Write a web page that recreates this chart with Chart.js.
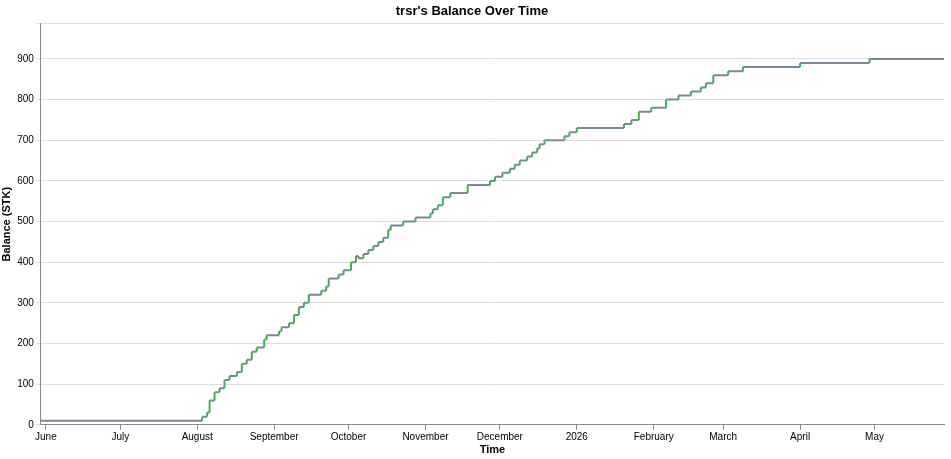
<!DOCTYPE html>
<html>
<head>
<meta charset="utf-8">
<script src="https://cdn.jsdelivr.net/npm/chart.js@4"></script>
<style>
body { margin: 0; background: #fff; }
#wrap { width: 951px; height: 459px; }
</style>
</head>
<body>
<div id="wrap"><canvas id="c"></canvas></div>
<script>
// balance after each change (date of change, new balance)
var changeDates = [
    "2025-05-30", "2025-08-03", "2025-08-05", "2025-08-06", "2025-08-08", "2025-08-10", "2025-08-12",
    "2025-08-14", "2025-08-17", "2025-08-19", "2025-08-21", "2025-08-23", "2025-08-25", "2025-08-28",
    "2025-08-29", "2025-09-03", "2025-09-04", "2025-09-07", "2025-09-09", "2025-09-11", "2025-09-13",
    "2025-09-15", "2025-09-20", "2025-09-22", "2025-09-23", "2025-09-27", "2025-09-29", "2025-10-02",
    "2025-10-04", "2025-10-05", "2025-10-07", "2025-10-09", "2025-10-11", "2025-10-13", "2025-10-15",
    "2025-10-17", "2025-10-18", "2025-10-23", "2025-10-28", "2025-11-03", "2025-11-04", "2025-11-06",
    "2025-11-08", "2025-11-11", "2025-11-18", "2025-11-27", "2025-11-29", "2025-12-02", "2025-12-05",
    "2025-12-07", "2025-12-09", "2025-12-12", "2025-12-14", "2025-12-16", "2025-12-17", "2025-12-19",
    "2025-12-27", "2025-12-29", "2026-01-01", "2026-01-20", "2026-01-23", "2026-01-26", "2026-01-31",
    "2026-02-06", "2026-02-11", "2026-02-16", "2026-02-20", "2026-02-22", "2026-02-25", "2026-03-03",
    "2026-03-09", "2026-04-01", "2026-04-29"
];
var balances = [
    10, 20, 30, 60, 80, 90, 110,
    120, 130, 150, 160, 180, 190, 210,
    220, 230, 240, 250, 270, 290, 300,
    320, 330, 340, 360, 370, 380, 400,
    415, 410, 420, 430, 440, 450, 460,
    480, 490, 500, 510, 520, 530, 540,
    560, 570, 590, 600, 610, 620, 630,
    640, 650, 660, 670, 680, 690, 700,
    710, 720, 730, 740, 750, 770, 780,
    800, 810, 820, 830, 840, 860, 870,
    880, 890, 900
];
var endDate = "2026-05-29";
var monthTicks = ["2025-06-01", "2025-07-01", "2025-08-01", "2025-09-01", "2025-10-01", "2025-11-01",
    "2025-12-01", "2026-01-01", "2026-02-01", "2026-03-01", "2026-04-01", "2026-05-01"];
var monthLabels = ["June", "July", "August", "September", "October", "November",
    "December", "2026", "February", "March", "April", "May"];

function ts(s) { return Date.parse(s + "T00:00:00Z"); }

var points = [{ x: ts(changeDates[0]), y: balances[0] }];
for (var i = 1; i < changeDates.length; i++) {
    points.push({ x: ts(changeDates[i]), y: balances[i - 1] });
    points.push({ x: ts(changeDates[i]), y: balances[i] });
}
points.push({ x: ts(endDate), y: balances[balances.length - 1] });

var tickValues = monthTicks.map(ts);

new Chart(document.getElementById("c"), {
    type: "line",
    data: {
        datasets: [{
            data: points,
            borderWidth: 2,
            pointRadius: 0,
            borderColor: "#778899",
            segment: {
                borderColor: function (ctx) {
                    if (ctx.p0.parsed.x !== ctx.p1.parsed.x) return "#778899";
                    return ctx.p1.parsed.y > ctx.p0.parsed.y ? "#3cb34a" : "#e74c3c";
                }
            }
        }]
    },
    options: {
        responsive: true,
        maintainAspectRatio: false,
        animation: false,
        layout: { padding: { right: 7, top: 0, left: 0, bottom: 2 } },
        plugins: {
            legend: { display: false },
            tooltip: { enabled: false },
            title: {
                display: true,
                text: "trsr's Balance Over Time",
                color: "#000",
                font: { family: "Liberation Sans", size: 13, weight: "bold" },
                padding: { top: 4, bottom: 4 }
            }
        },
        scales: {
            x: {
                type: "linear",
                min: ts("2025-05-30"),
                max: ts(endDate),
                afterBuildTicks: function (axis) {
                    axis.ticks = tickValues.map(function (v) { return { value: v }; });
                },
                ticks: {
                    autoSkip: false,
                    maxRotation: 0,
                    padding: 1,
                    color: "#000",
                    font: { family: "Liberation Sans", size: 10 },
                    callback: function (v) {
                        var idx = tickValues.indexOf(v);
                        return idx >= 0 ? monthLabels[idx] : "";
                    }
                },
                grid: { drawOnChartArea: false, tickLength: 5, color: "#888" },
                border: { color: "#888" },
                title: {
                    display: true,
                    text: "Time",
                    color: "#000",
                    font: { family: "Liberation Sans", size: 11, weight: "bold" },
                    padding: { top: 0, bottom: 0 }
                }
            },
            y: {
                min: 0,
                max: 987,
                ticks: {
                    stepSize: 100,
                    padding: 2,
                    color: "#000",
                    font: { family: "Liberation Sans", size: 10 },
                    callback: function (v) { return v % 100 === 0 ? v : ""; }
                },
                grid: { color: "#ddd", tickLength: 5 },
                border: { color: "#888" },
                title: {
                    display: true,
                    text: "Balance (STK)",
                    color: "#000",
                    font: { family: "Liberation Sans", size: 11, weight: "bold" },
                    padding: { top: 0, bottom: 2 }
                }
            }
        }
    }
});
</script>
</body>
</html>
